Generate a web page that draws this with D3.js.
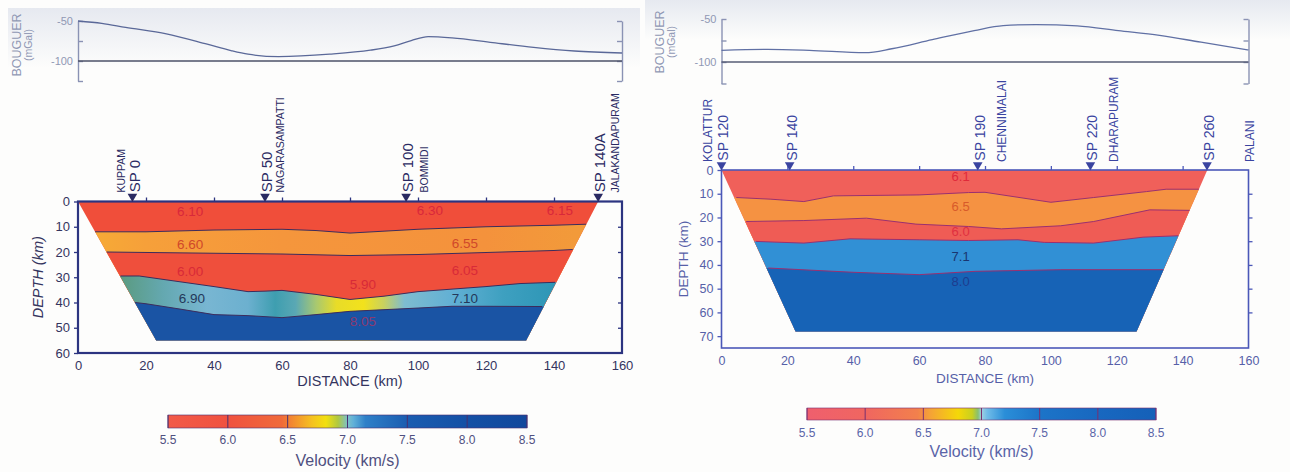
<!DOCTYPE html>
<html>
<head>
<meta charset="utf-8">
<script src="https://cdn.jsdelivr.net/npm/d3@7"></script>
<style>
  body { margin: 0; background: #fdfdfc; }
  svg { display: block; font-family: "Liberation Sans", Arial, sans-serif; }
</style>
</head>
<body>
<svg id="chart" width="1290" height="472"></svg>
<script>
// shared ticks
const distTicks = [0, 20, 40, 60, 80, 100, 120, 140, 160];
const gravTicks = [-50, -75, -100, -125];
const gravLabels = [-50, -100];
const barTicks = [5.5, 6.0, 6.5, 7.0, 7.5, 8.0, 8.5];

// ---- left profile (Kuppam - Jalakandapuram)
const leftGravDist = [0, 7, 14, 26, 38, 45, 50, 59, 74, 86, 93, 98, 103, 110, 122, 134, 146, 160];
const leftGravMgal = [-50, -53, -58, -66, -79, -87, -91.5, -94.5, -91.5, -86.5, -81, -74.5, -69.5, -71, -77, -83, -87.5, -90];
const leftShotNames = ['SP 0', 'SP 50', 'SP 100', 'SP 140A'];
const leftShotKm = [16, 55, 96.5, 153];
const leftPlaceNames = ['KUPPAM', 'NAGARASAMPATTI', 'BOMMIDI', 'JALAKANDAPURAM'];
const leftPlaceKm = [12.6, 59.4, 102, 158];
const leftOutline = [[0, 0], [153, 0], [131.8, 55], [23, 55]];
const leftBound1 = [[5, 12], [20, 12], [40, 11.3], [60, 11], [70, 11.5], [80, 12.5], [100, 11], [120, 10], [140, 9.4], [149.5, 9]];
const leftBound2 = [[8.4, 20], [40, 20.5], [60, 20.8], [80, 21.4], [100, 21], [120, 20.2], [140, 19.4], [145.5, 19]];
const leftBound3 = [[12.5, 29.5], [18, 29.5], [30, 31.8], [40, 33.7], [50, 35.7], [55, 35.5], [60, 35.2], [70, 36.8], [80, 38.8], [90, 37.5], [100, 35.7], [120, 33.7], [130, 32.5], [140.3, 32]];
const leftBound4 = [[16.8, 40], [20, 40.5], [30, 42.6], [40, 44.8], [50, 45.2], [60, 46], [70, 44.8], [80, 43.5], [100, 42.2], [110, 41.5], [120, 41.5], [136.5, 41.6]];
const leftVelText = ['6.10', '6.30', '6.15', '6.60', '6.55', '6.00', '6.05', '5.90', '6.90', '7.10', '8.05'];
const leftVelKm = [33, 103.5, 141.7, 33, 113.8, 33, 113.8, 83.8, 33.5, 113.8, 83.8];
const leftVelDepth = [4, 3.6, 3.6, 17.1, 16.4, 27.5, 27.1, 32.7, 38.5, 38.5, 47.6];
const leftVelLayer = [0, 0, 0, 1, 1, 2, 2, 2, 3, 3, 4];
const leftBarVel = [5.5, 6.0, 6.45, 6.5, 6.7, 6.82, 6.92, 7.0, 7.05, 7.15, 7.5, 8.0, 8.5];
const leftBarColor = ['#f25a48', '#f0513f', '#f06a3a', '#f27c34', '#f5c020', '#f2e010', '#b0c840', '#7cc0c8', '#60b0d8', '#2f80c8', '#1a5cb0', '#1450a5', '#12489c'];
const leftL2Km = [5, 20, 60, 120, 146];
const leftL2Color = ['#f6aa36', '#f6a03a', '#f5963c', '#f4923c', '#f29a3a'];
const leftL4Km = [12, 25, 38, 50, 58, 64, 70, 76, 84, 90, 96, 110, 125, 140];
const leftL4Color = ['#5a9a7e', '#64a8b0', '#78b6d2', '#6cb0cf', '#3e9eb0', '#5aa8b4', '#a8c870', '#e8dc28', '#f2e21c', '#c8d060', '#7ebcd0', '#62b0d4', '#3ea0c0', '#2e96b6'];

// ---- right profile (Kolattur - Palani)
const rightGravDist = [0, 14, 26.7, 43.6, 51.7, 64, 76.7, 85.5, 95.5, 108, 120.5, 133, 145.6, 160];
const rightGravMgal = [-86.5, -85.4, -86.5, -89.2, -84.6, -74, -63.5, -57.7, -56.5, -58, -63.5, -69, -77, -86];
const rightShotNames = ['SP 120', 'SP 140', 'SP 190', 'SP 220', 'SP 260'];
const rightShotKm = [0, 20.7, 77.8, 112, 147.4];
const rightPlaceNames = ['KOLATTUR', 'CHENNIMALAI', 'DHARAPURAM', 'PALANI'];
const rightPlaceKm = [-4.3, 85.1, 119.1, 160.5];
const rightOutline = [[0, 0], [147.5, 0], [126, 68], [22.5, 68]];
const rightBound1 = [[4.5, 11.6], [15, 12.3], [25, 13.3], [34, 10.9], [60, 10.5], [75, 9.5], [80, 9.4], [90, 11.5], [100, 13.6], [113, 11.6], [129, 9.1], [135, 8.1], [145, 8.1]];
const rightBound2 = [[7.5, 21.7], [25, 21.3], [44, 20.3], [59, 22.8], [75, 23.8], [85, 24.8], [103, 23.5], [113, 21.7], [130, 16.8], [142.2, 17]];
const rightBound3 = [[10.5, 30.1], [25, 30.8], [39, 29], [60, 29.4], [75, 29.7], [90, 29.4], [98, 30.5], [113, 30.8], [128, 28.3], [138.7, 27.7]];
const rightBound4 = [[14.2, 41.3], [40, 43.1], [60, 44.1], [77, 42.7], [103, 42], [134.2, 42]];
const rightVelText = ['6.1', '6.5', '6.0', '7.1', '8.0'];
const rightVelKm = [72.6, 72.6, 72.6, 72.6, 72.6];
const rightVelDepth = [2.8, 15.4, 25.9, 36.4, 47];
const rightVelLayer = [0, 1, 2, 3, 4];
const rightBarVel = [5.5, 6.0, 6.45, 6.55, 6.8, 6.92, 6.97, 7.0, 7.05, 7.2, 7.5, 8.0, 8.5];
const rightBarColor = ['#ef5f6e', '#f06660', '#f2804c', '#f5a038', '#f5d808', '#c8d020', '#88c070', '#a0d0e0', '#70bce8', '#2a8ed8', '#1c74c8', '#1868c0', '#1560b8'];

const svg = d3.select('#chart');
const defs = svg.append('defs');

function hGradient(id, x, kms, colors) {
  const grad = defs.append('linearGradient').attr('id', id)
    .attr('gradientUnits', 'userSpaceOnUse')
    .attr('x1', x(0)).attr('x2', x(160)).attr('y1', 0).attr('y2', 0);
  kms.forEach((k, i) => grad.append('stop').attr('offset', k / 160).attr('stop-color', colors[i]));
  return `url(#${id})`;
}

function styleAxis(sel, color, width) {
  sel.select('.domain').attr('stroke', color).attr('stroke-width', width);
  sel.selectAll('.tick line').attr('stroke', color).attr('stroke-width', width);
}

function vText(g, x, yBottom, text, size, color) {
  g.append('text')
    .attr('transform', `translate(${x},${yBottom}) rotate(-90)`)
    .attr('dy', '0.35em')
    .attr('font-size', size)
    .attr('fill', color)
    .text(text);
}

function drawProfile(p) {
  const g = svg.append('g');
  const x = d3.scaleLinear().domain([0, 160]).range(p.xRange);
  const y = d3.scaleLinear().domain([0, p.maxDepth]).range(p.yRange);
  const gy = d3.scaleLinear().domain([-50, -125]).range(p.gravRange);
  const line = d3.line().x(d => x(d[0])).y(d => y(d[1]));

  // faint scan tint at the top
  const tint = defs.append('linearGradient').attr('id', p.id + '-tint')
    .attr('x1', 0).attr('x2', 0).attr('y1', 0).attr('y2', 1);
  tint.append('stop').attr('offset', 0).attr('stop-color', '#e6e9f0');
  tint.append('stop').attr('offset', 1).attr('stop-color', '#fdfdfc');
  g.append('rect').attr('x', p.tint[0]).attr('y', p.tint[1]).attr('width', p.tint[2]).attr('height', p.tint[3])
    .attr('fill', `url(#${p.id}-tint)`);

  // Bouguer gravity panel
  const ga = g.append('g').attr('transform', `translate(${x(0)},0)`)
    .call(d3.axisRight(gy).tickValues(gravTicks).tickSize(5).tickSizeOuter(0).tickFormat(''));
  styleAxis(ga, p.gravAxisColor, 1.4);
  const gb = g.append('g').attr('transform', `translate(${x(160)},0)`)
    .call(d3.axisLeft(gy).tickValues(gravTicks).tickSize(5).tickSizeOuter(0).tickFormat(''));
  styleAxis(gb, p.gravAxisColor, 1.4);
  g.selectAll(null).data(gravLabels).join('text')
    .attr('x', x(0) - 5).attr('y', d => gy(d)).attr('dy', '0.35em')
    .attr('text-anchor', 'end').attr('font-size', 11).attr('fill', p.gravTextColor)
    .text(d => '-' + Math.abs(d));
  g.append('line')
    .attr('x1', x(0)).attr('x2', x(160)).attr('y1', gy(-100)).attr('y2', gy(-100))
    .attr('stroke', p.refLineColor).attr('stroke-width', 1.3);
  g.append('path')
    .datum(p.gravDist.map((d, i) => [d, p.gravMgal[i]]))
    .attr('d', d3.line().x(d => x(d[0])).y(d => gy(d[1])).curve(d3.curveMonotoneX))
    .attr('fill', 'none').attr('stroke', p.gravLineColor).attr('stroke-width', 1.3);
  g.append('text')
    .attr('transform', `translate(${p.bouguerX},${p.bouguerY}) rotate(-90)`)
    .attr('text-anchor', 'middle').attr('font-size', 12.5).attr('fill', p.gravTextColor)
    .text('BOUGUER');
  g.append('text')
    .attr('transform', `translate(${p.bouguerX + 11},${p.bouguerY}) rotate(-90)`)
    .attr('text-anchor', 'middle').attr('font-size', 10.5).attr('fill', p.gravTextColor)
    .text('(mGal)');

  // velocity section
  defs.append('clipPath').attr('id', p.id + '-clip')
    .append('path').attr('d', line(p.outline) + 'Z');
  const sec = g.append('g').attr('clip-path', `url(#${p.id}-clip)`);
  const deep = p.maxDepth + 10;
  p.layerFill.forEach((fill, k) => {
    let poly;
    if (k === 0) {
      poly = [[-10, -5], [170, -5], [170, deep], [-10, deep]];
    } else {
      const b = p.bounds[k - 1];
      poly = [[-10, b[0][1]], ...b, [170, b[b.length - 1][1]], [170, deep], [-10, deep]];
    }
    sec.append('path').attr('d', line(poly) + 'Z').attr('fill', fill);
  });
  p.bounds.forEach(b => {
    sec.append('path').attr('d', line(b))
      .attr('fill', 'none').attr('stroke', p.boundColor).attr('stroke-width', 1);
  });
  g.selectAll(null).data(p.velText).join('text')
    .attr('x', (d, i) => x(p.velKm[i]))
    .attr('y', (d, i) => y(p.velDepth[i]))
    .attr('dy', '0.35em').attr('text-anchor', 'middle')
    .attr('font-size', p.velSize)
    .attr('fill', (d, i) => p.velColor[p.velLayer[i]])
    .text(d => d);

  // frame and axes
  g.append('rect')
    .attr('x', x(0)).attr('y', y(0))
    .attr('width', x(160) - x(0)).attr('height', y(p.maxDepth) - y(0))
    .attr('fill', 'none').attr('stroke', p.frameColor).attr('stroke-width', p.frameWidth);

  const ax = g.append('g').attr('transform', `translate(0,${y(p.maxDepth)})`)
    .call(d3.axisBottom(x).tickValues(distTicks).tickSize(0).tickPadding(p.xPad));
  ax.select('.domain').remove();
  ax.selectAll('text').attr('font-size', p.tickSize).attr('fill', p.textColor).attr('font-family', null);

  const at = g.append('g').attr('transform', `translate(0,${y(0)})`)
    .call(d3.axisTop(x).tickValues(distTicks.slice(1, -1)).tickSize(4).tickFormat(''));
  at.select('.domain').remove();
  styleAxis(at, p.frameColor, 1.3);

  const ay = g.append('g').attr('transform', `translate(${x(0)},0)`)
    .call(d3.axisLeft(y).tickValues(p.depthTicks).tickSize(4).tickPadding(4));
  ay.select('.domain').remove();
  styleAxis(ay, p.frameColor, 1.3);
  ay.selectAll('text').attr('font-size', p.tickSize).attr('fill', p.textColor).attr('font-family', null);

  const ar = g.append('g').attr('transform', `translate(${x(160)},0)`)
    .call(p.rightTicksOut ? d3.axisRight(y).tickValues(p.depthTicks.slice(1, -1)).tickSize(4).tickFormat('')
                          : d3.axisLeft(y).tickValues(p.depthTicks.slice(1, -1)).tickSize(4).tickFormat(''));
  ar.select('.domain').remove();
  styleAxis(ar, p.frameColor, 1.3);

  g.append('text')
    .attr('x', x(80)).attr('y', p.distTitleY)
    .attr('text-anchor', 'middle').attr('font-size', p.titleSize).attr('fill', p.textColor)
    .text('DISTANCE (km)');
  g.append('text')
    .attr('transform', `translate(${p.depthTitleX},${(y(0) + y(p.maxDepth)) / 2}) rotate(-90)`)
    .attr('dy', '0.35em').attr('text-anchor', 'middle')
    .attr('font-size', p.titleSize).attr('font-style', p.depthItalic ? 'italic' : 'normal')
    .attr('fill', p.textColor)
    .text('DEPTH (km)');

  // shot points and place names
  const tri = d3.symbol().type(d3.symbolTriangle).size(p.triSize)();
  const triH = Math.sqrt(p.triSize * 4 / Math.sqrt(3)) * Math.sqrt(3) / 2;
  p.shotKm.forEach((km, i) => {
    g.append('path').attr('d', tri)
      .attr('transform', `translate(${x(km)},${y(0) - triH * 2 / 3 + 0.5}) rotate(180)`)
      .attr('fill', p.shotColor);
    vText(g, x(km) + 2, y(0) - triH - 1, p.shotNames[i], p.shotSize, p.shotColor);
  });
  p.placeKm.forEach((km, i) => {
    vText(g, x(km), y(0) - p.placeGap, p.placeNames[i], p.placeSize, p.shotColor);
  });
}

function drawBar(b) {
  const x = d3.scaleLinear().domain([5.5, 8.5]).range(b.xRange);
  const grad = defs.append('linearGradient').attr('id', b.id)
    .attr('gradientUnits', 'userSpaceOnUse')
    .attr('x1', x(5.5)).attr('x2', x(8.5)).attr('y1', 0).attr('y2', 0);
  b.vel.forEach((v, i) => grad.append('stop').attr('offset', (v - 5.5) / 3).attr('stop-color', b.color[i]));
  const g = svg.append('g');
  g.append('rect')
    .attr('x', x(5.5)).attr('y', b.y).attr('width', x(8.5) - x(5.5)).attr('height', b.h)
    .attr('fill', `url(#${b.id})`).attr('stroke', b.lineColor).attr('stroke-width', 0.6);
  g.selectAll('line.div').data(barTicks).join('line')
    .attr('x1', d => x(d)).attr('x2', d => x(d)).attr('y1', b.y).attr('y2', b.y + b.h)
    .attr('stroke', b.lineColor).attr('stroke-width', 1);
  g.selectAll('text.tk').data(barTicks).join('text')
    .attr('x', d => x(d)).attr('y', b.labelY).attr('dy', '0.35em')
    .attr('text-anchor', 'middle').attr('font-size', 12).attr('fill', b.textColor)
    .text(d => d.toFixed(1));
  g.append('text')
    .attr('x', x(7)).attr('y', b.titleY).attr('dy', '0.35em')
    .attr('text-anchor', 'middle').attr('font-size', 16).attr('fill', b.textColor)
    .text('Velocity (km/s)');
}

const xLeft = d3.scaleLinear().domain([0, 160]).range([78, 622]);

drawProfile({
  id: 'left',
  xRange: [78, 622], maxDepth: 60, yRange: [201.5, 353], gravRange: [21, 81],
  depthTicks: [0, 10, 20, 30, 40, 50, 60],
  tint: [8, 8, 632, 60],
  gravDist: leftGravDist, gravMgal: leftGravMgal,
  gravAxisColor: '#8a92b4', gravTextColor: '#9098b4', refLineColor: '#4c5268', gravLineColor: '#5a6898',
  bouguerX: 21, bouguerY: 45,
  outline: leftOutline,
  bounds: [leftBound1, leftBound2, leftBound3, leftBound4],
  layerFill: ['#f04e3a', hGradient('left-l2', xLeft, leftL2Km, leftL2Color), '#ef4f3c',
              hGradient('left-l4', xLeft, leftL4Km, leftL4Color), '#1a54a4'],
  boundColor: '#3c2c5c',
  velText: leftVelText, velKm: leftVelKm, velDepth: leftVelDepth, velLayer: leftVelLayer,
  velColor: ['#d8283a', '#d0482a', '#d82a38', '#24385a', '#8a3a70'], velSize: 13.5,
  frameColor: '#2c3480', frameWidth: 2.2, rightTicksOut: false,
  tickSize: 13, textColor: '#34345e', xPad: 8, titleSize: 14.5,
  distTitleY: 386, depthTitleX: 38, depthItalic: true,
  shotKm: leftShotKm, shotNames: leftShotNames, placeKm: leftPlaceKm, placeNames: leftPlaceNames,
  shotColor: '#2a2a62', shotSize: 15, placeSize: 10.5, placeGap: 9, triSize: 40
});

drawProfile({
  id: 'right',
  xRange: [721.5, 1248.5], maxDepth: 75, yRange: [170, 348], gravRange: [19, 83.5],
  depthTicks: [0, 10, 20, 30, 40, 50, 60, 70],
  tint: [645, 0, 645, 40],
  gravDist: rightGravDist, gravMgal: rightGravMgal,
  gravAxisColor: '#8a92b4', gravTextColor: '#9098b4', refLineColor: '#565c76', gravLineColor: '#6070a4',
  bouguerX: 664, bouguerY: 42,
  outline: rightOutline,
  bounds: [rightBound1, rightBound2, rightBound3, rightBound4],
  layerFill: ['#f0605a', '#f59242', '#ef5c55', '#3190d5', '#1763b6'],
  boundColor: '#9a3070',
  velText: rightVelText, velKm: rightVelKm, velDepth: rightVelDepth, velLayer: rightVelLayer,
  velColor: ['#e02a3a', '#d85a2a', '#e03040', '#1a3570', '#1e3c8e'], velSize: 13,
  frameColor: '#4b58b8', frameWidth: 1.6, rightTicksOut: true,
  tickSize: 12.5, textColor: '#5660a8', xPad: 8, titleSize: 13.5,
  distTitleY: 383, depthTitleX: 683, depthItalic: false,
  shotKm: rightShotKm, shotNames: rightShotNames, placeKm: rightPlaceKm, placeNames: rightPlaceNames,
  shotColor: '#3a44a0', shotSize: 14, placeSize: 12, placeGap: 8, triSize: 40
});

drawBar({ id: 'bar-left', xRange: [168, 527], y: 415, h: 13, labelY: 440, titleY: 460,
  vel: leftBarVel, color: leftBarColor, lineColor: '#4a3070', textColor: '#505080' });
drawBar({ id: 'bar-right', xRange: [807, 1156], y: 408, h: 12, labelY: 433, titleY: 451,
  vel: rightBarVel, color: rightBarColor, lineColor: '#7a3070', textColor: '#5a64a8' });
</script>
</body>
</html>
